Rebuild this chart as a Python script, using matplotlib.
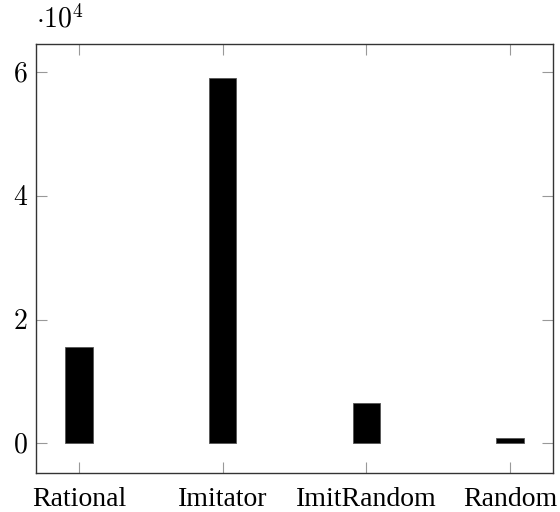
import matplotlib
matplotlib.use("Agg")
import matplotlib.pyplot as plt
from matplotlib.ticker import FuncFormatter

plt.rcParams['mathtext.fontset'] = 'cm'
plt.rcParams['font.family'] = ['Liberation Serif', 'DejaVu Serif']

categories = ["Rational", "Imitator", "ImitRandom", "Random"]
values = [15600, 59000, 6600, 900]
yticks = [0, 20000, 40000, 60000]

fig = plt.figure(figsize=(5.6, 5.12), dpi=100)
ax = fig.add_axes([0.0643, 0.0762, 0.9232, 0.8378])

x = list(range(len(categories)))
ax.bar(x, values, width=0.19, color='black', edgecolor='#555555', linewidth=0.6)

ax.set_xlim(-0.3, 3.3)
ax.set_ylim(-4770, 64540)
ax.set_xticks(x)
ax.set_xticklabels(categories, fontsize=20)
ax.set_yticks(yticks)
ax.yaxis.set_major_formatter(FuncFormatter(lambda v, p: r'$%d$' % round(v / 1e4)))
for lab in ax.get_yticklabels():
    lab.set_fontsize(20)

ax.tick_params(direction='in', length=8, width=0.8, color='#999999',
               top=True, right=True, pad=6)
ax.tick_params(axis='x', pad=10)
for s in ax.spines.values():
    s.set_linewidth(1.0)
    s.set_color('#333333')

ax.text(0.0, 1.025, r'$\cdot 10^4$', transform=ax.transAxes, fontsize=20,
        ha='left', va='bottom')

fig.savefig("out.png", dpi=100)
